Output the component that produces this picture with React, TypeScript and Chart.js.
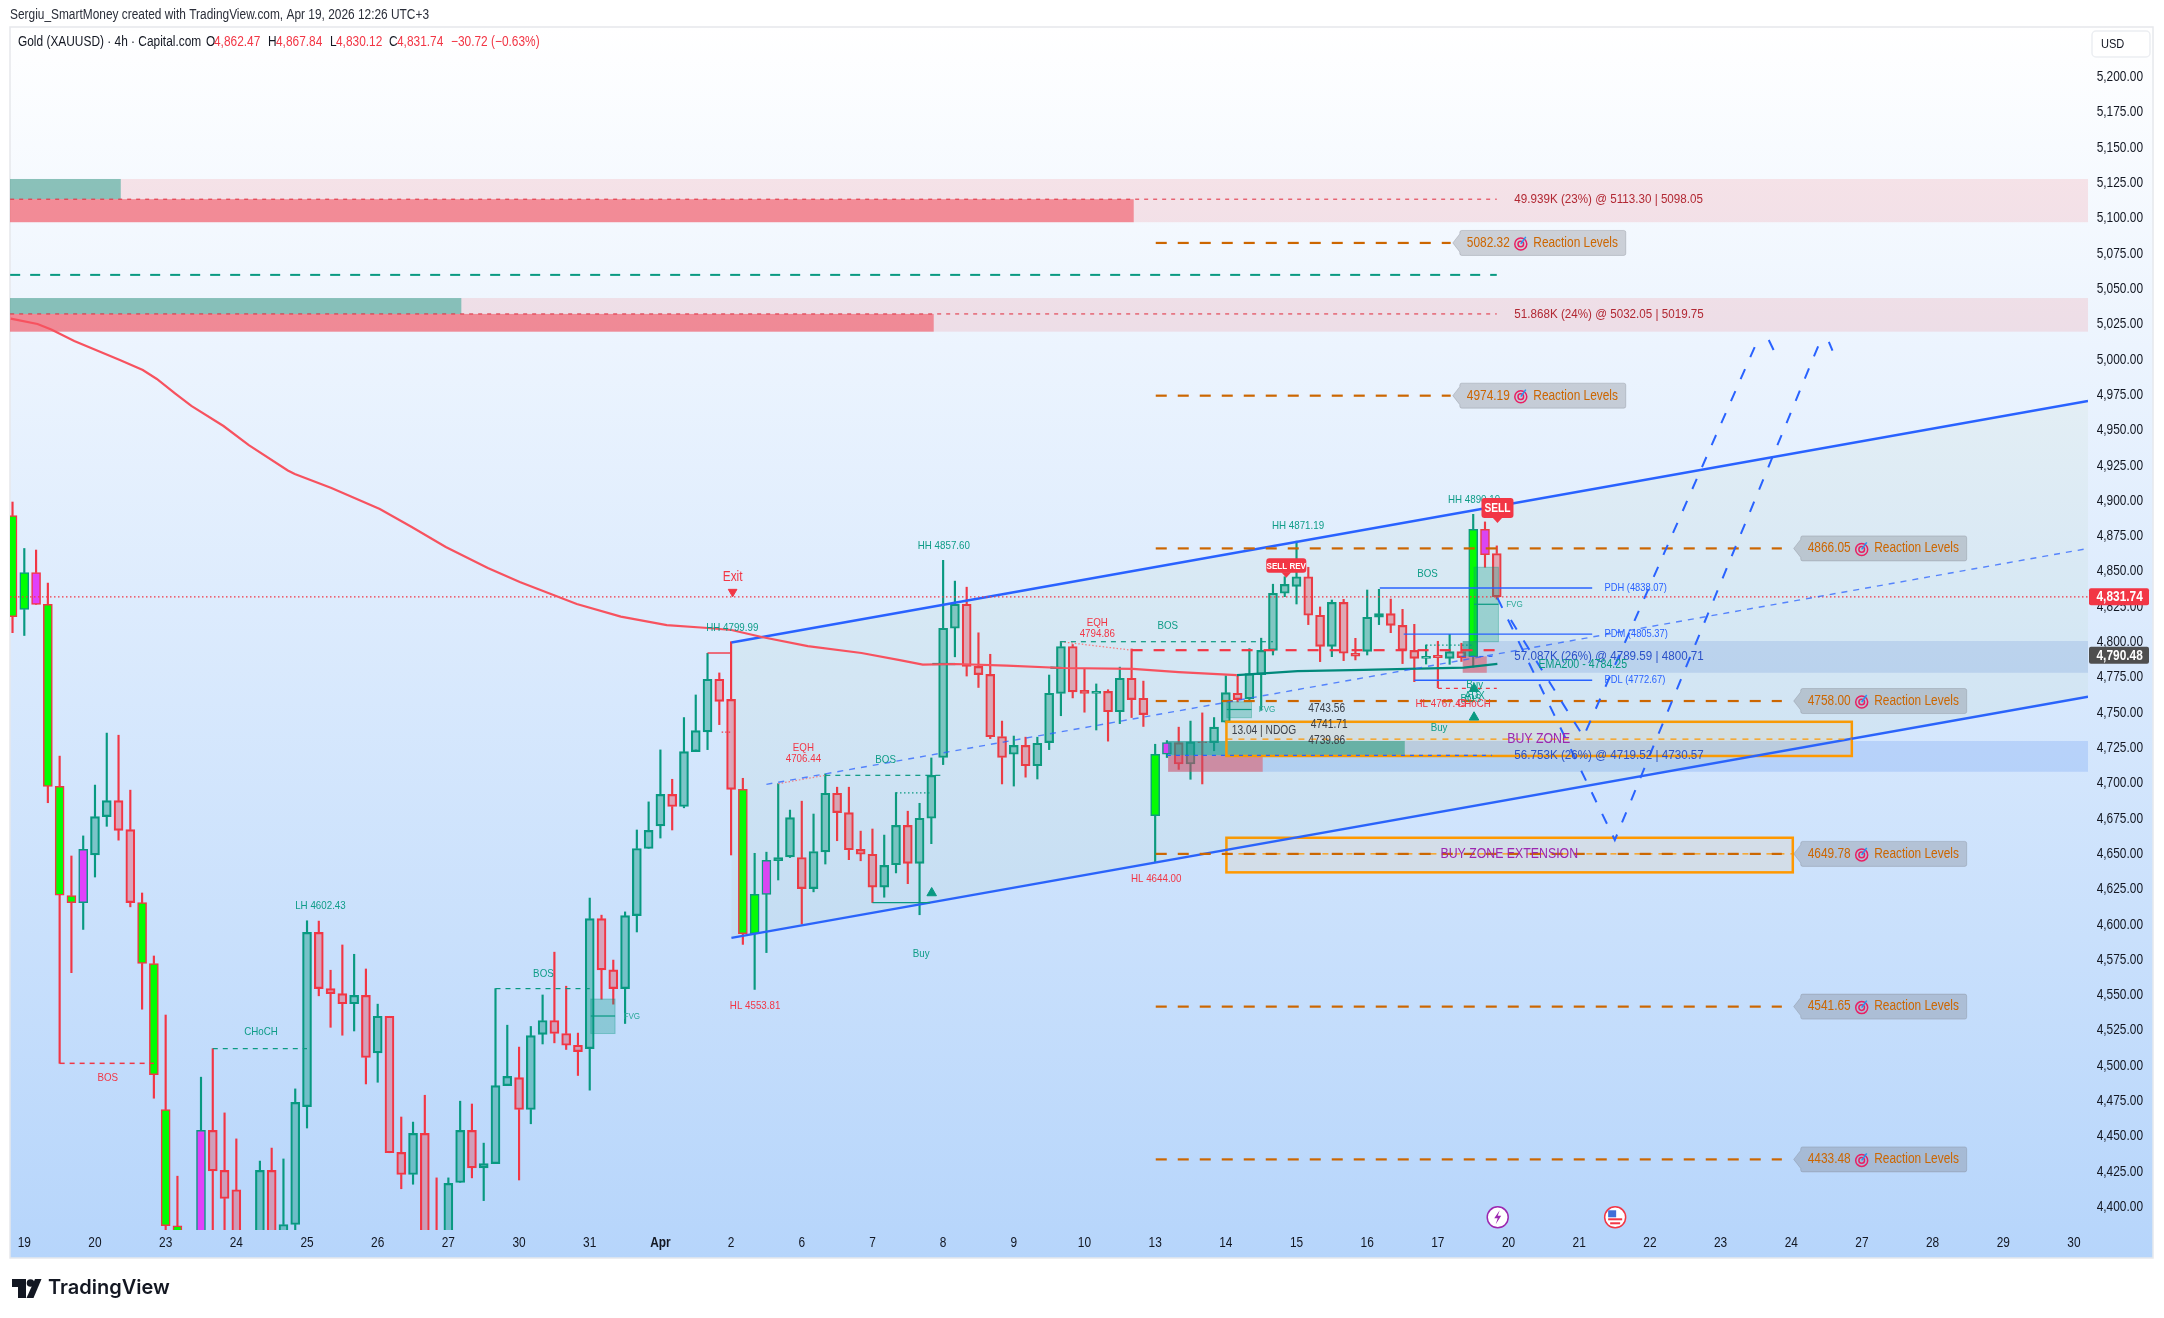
import React, { useEffect, useRef } from "react";
import { Chart, registerables } from "chart.js";

Chart.register(...registerables);

// ---------- price series (4h candles, bar index -1 .. 125) ----------
const firstBar = -1;
const opens = [4889.3,4822.8,4849,4826.4,4697.6,4620.3,4615.3,4649.1,4676.2,4687.5,4667,4615.3,4572.2,4468.8,4386.5,4375,4370,4454,4425.7,4412,4375,4372,4425.7,4375,4387.4,4470.9,4594.2,4554.4,4550.8,4543.7,4549.6,4508.9,4534.8,4438.5,4422.8,4451.9,4378,4372,4417.1,4454,4427.5,4430.5,4485.7,4491.4,4468.8,4522,4531.8,4522.6,4514.3,4511.9,4604,4567.7,4554.4,4606.1,4653.6,4669.6,4691.9,4683.3,4722.2,4736.2,4773.4,4759.2,4695.5,4593.3,4621.1,4644.9,4647.7,4647.2,4625.2,4651.2,4692.7,4679,4653,4649.5,4626.2,4642.1,4670,4643.1,4675,4718,4809.5,4826.5,4782.5,4776.9,4732.9,4720.3,4726.6,4712.2,4728.6,4763.3,4796.6,4765.5,4763.3,4764.8,4750.4,4774.1,4760,4676.8,4720.3,4728.6,4713.4,4729.1,4728.6,4743,4763.5,4759.5,4776.7,4793.9,4834.3,4839.2,4846,4818.7,4796.7,4827.9,4791.8,4793.2,4817.3,4819.9,4811.6,4793.9,4788.2,4790.4,4788.2,4793,4789.4,4879.6,4862.47];
const highs = [4898.9,4866,4864.9,4841.5,4719,4648.3,4662.5,4698.5,4735.3,4733.8,4694.9,4622.1,4577.5,4535.7,4421.6,4380,4491.7,4511.9,4466.4,4448,4381,4432.3,4441.5,4433.8,4483.4,4602.43,4602.2,4567.4,4585.3,4578.7,4568.3,4543.4,4534.8,4463.5,4459.9,4478.9,4420.4,4420.4,4474.7,4472.7,4445,4554.4,4528.5,4513,4527.6,4549.9,4580.2,4556.1,4522.9,4618.5,4606.4,4574.6,4608.7,4666.7,4686.6,4723.4,4702.6,4746.3,4762.3,4791.8,4777.9,4799.99,4703.3,4650.2,4651,4699.5,4680.8,4687.1,4678,4706.44,4697,4697,4665.9,4667.4,4663.1,4693.2,4680,4685.6,4717.7,4857.6,4842.9,4838.6,4806.3,4791.1,4743.8,4733.2,4732.4,4732.4,4776.4,4800.2,4798,4780.5,4770.1,4766,4782,4794.86,4772.1,4727.4,4730,4739.5,4743.8,4749.6,4746.3,4775.9,4775.9,4795.1,4802.5,4840.7,4846,4871.19,4852.7,4824.6,4829.5,4830,4802.4,4836.6,4837.1,4830.2,4822.9,4812.3,4797.7,4800.3,4805.2,4798.9,4890.19,4884.8,4867.84];
const lows = [4806.4,4804.4,4826.4,4686,4501.5,4565.7,4596.3,4633.4,4669.3,4659.5,4612.3,4539.8,4476.8,4380,4365,4360,4365,4370,4372,4365,4360,4365,4370,4370,4378,4455.7,4549.3,4527,4521.4,4524.4,4486.9,4488.1,4438.2,4412.7,4415.9,4370,4360,4366,4417.1,4420.4,4404.3,4430.5,4485.7,4418.9,4458.7,4515.2,4516,4511.3,4492.9,4482.5,4546.9,4543.4,4529.7,4594.5,4653.6,4661,4666.7,4682.4,4723.4,4723.6,4741.3,4649,4585.7,4553.81,4579.9,4631.3,4647.2,4600.2,4622.9,4642.6,4659.1,4645.7,4644.9,4615.3,4619.1,4636.3,4628.7,4606.7,4657,4713,4789.3,4775.7,4767.6,4731.4,4699.3,4697.8,4704.1,4702.8,4723.6,4747.6,4760.2,4750.1,4737.5,4729.6,4742,4746.3,4740,4644,4718,4709.6,4702.6,4699.3,4722.8,4742.5,4757.4,4759,4751.4,4790.6,4831.9,4826.7,4812.1,4785.9,4789.4,4786.6,4787.1,4790.6,4812.1,4806.4,4784.5,4771.7,4784.2,4767.49,4784,4786,4781.9,4852.7,4830.12];
const closes = [4817.7,4849,4826.4,4697.6,4620.6,4615.3,4653,4676.2,4687.5,4666.4,4615.3,4572.2,4493.5,4386.5,4375,4370,4454,4425.4,4405.8,4375,4370,4425.7,4375,4387.4,4473.9,4594.2,4554.4,4550.8,4543.7,4549.6,4505.6,4534.8,4438.2,4422.8,4451.9,4378,4372,4416.5,4454,4427.5,4430.5,4485.7,4492.3,4468.8,4521.1,4531.8,4522.6,4514.3,4509.8,4604,4567.7,4554.4,4606.1,4653.6,4666.4,4691.9,4683.3,4722.2,4737.1,4773.4,4757.7,4695.5,4593.3,4621.1,4645.2,4647.2,4675.5,4625.2,4651.5,4692.7,4679,4652.7,4649.5,4626.2,4641.6,4670,4643.1,4675,4705.4,4809.5,4826.5,4782.5,4776.7,4732.7,4718,4726.6,4712.2,4728.1,4763.5,4796.6,4764.5,4763.3,4764.8,4750.4,4774.1,4759,4748.4,4720.3,4728.6,4713.4,4729.1,4728.6,4739.5,4764,4759,4777.4,4793.9,4834.3,4840.6,4846,4818.7,4796.7,4827.9,4791.8,4789.7,4817.3,4819.9,4811.6,4793.9,4788.2,4789.7,4788.7,4793,4788.7,4879.6,4861.6,4831.74];
const limeBars = [-1,0,2,3,4,10,11,12,13,14,61,62,96,123];
const magentaBars = [1,5,15,63,97,124];

// ---------- axes ----------
const priceTicks = [4400,4425,4450,4475,4500,4525,4550,4575,4600,4625,4650,4675,4700,4725,4750,4775,4800,4825,4850,4875,4900,4925,4950,4975,5000,5025,5050,5075,5100,5125,5150,5175,5200];
const dayLabels = ["19","20","23","24","25","26","27","30","31","Apr","2","6","7","8","9","10","13","14","15","16","17","20","21","22","23","24","27","28","29","30"];
const barsPerDay = 6;

// ---------- moving average ----------
const emaRed = [[-1.15,5028.7],[1.12,5024.9],[2.29,5021],[4.24,5012.9],[8.11,4999.4],[10.06,4992.3],[11.25,4986],[12.82,4975.7],[14.18,4966.9],[16.91,4952.7],[19.06,4939.2],[22.37,4921.2],[22.96,4918.7],[26.07,4908.8],[30.18,4893.9],[32.89,4881.2],[35.78,4867],[39.35,4852.2],[42.06,4842.2],[46.9,4826.7],[50.64,4817.8],[54.54,4811.8],[58.02,4809.7],[60.03,4808.3],[62.6,4803.3],[66.51,4796.9],[71.07,4792],[74.32,4787],[76.27,4783.8],[79.03,4784.2],[83.4,4783],[88.12,4781.4],[94.1,4780.7],[98,4778.5],[102.93,4776.4]];
const emaTeal = [[102.93,4776.4],[108.08,4779.2],[113.71,4780],[122.2,4781.6],[125.05,4784.25]];
const emaTealA = [[77.08,4784.2],[79.03,4784.2]];
const emaTealB = [[87.1,4781.6],[88.12,4781.4]];

// ---------- channel and projection ----------
const channelUpper = [[60.03,4799.4],[175.19,4970.4]];
const channelLower = [[60.03,4590.3],[175.19,4761]];
const channelMid = [[63,4699],[175.19,4866]];
const projectionA = [[125.06,4831],[135.02,4659.6],[152.5,5013.6]];
const projectionB = [[126.2,4815.3],[132.36,4732.7],[147.16,5013.6]];
const projectionTailA = [[153.19,5012.2],[153.5,5006]];
const projectionTailB = [[148.09,5013.6],[148.5,5006.5]];

// ---------- levels ----------
const lastPrice = 4831.74;
const pocPrice = 4790.48;
const upperReactionLevels = [5082.32,4974.19];
const lowerReactionLevels = [4866.05,4758.0,4649.78,4541.65,4433.48];
const tealLevel = [[-1.2,5059.7],[125,5059.7]];
const vpLineA = [[-1.2,5113.3],[125,5113.3]];
const vpLineB = [[-1.2,5032.05],[125,5032.05]];
const vpLineC = [[122,4789.59],[125,4789.59]];
const vpLineD = [[97,4719.52],[124.6,4719.52]];
const pdh = [[115.07,4838.07],[133.1,4838.07]];
const pdm = [[117.1,4805.37],[133.1,4805.37]];
const pdl = [[118,4772.67],[133.1,4772.67]];
const eqhThick = [[94,4794],[125,4794]];
const bosRed = [[3,4501.5],[11,4501.5]];
const chochTeal = [[16,4511.9],[24,4511.9]];
const bosTealA = [[40,4554.4],[48,4554.4]];
const bosTealB = [[68,4705.4],[78,4705.4]];
const bosTealC = [[88,4800],[106,4800]];
const dottedTealA = [[74,4693],[77,4693]];
const dottedTealB = [[119,4797.6],[123,4797.6]];
const eqhDottedA = [[64,4699.5],[68,4705.4]];
const eqhDottedB = [[88,4800],[94,4794]];
const buySolid = [[72,4615.3],[76.9,4615.3]];
const hhBracket = [[58,4792],[60,4792]];
const exitDotted = [[59.2,4736],[60,4736]];
const hlDashed = [[120,4767],[125,4767]];
const buyZoneLine = [[102.05,4731],[155.14,4731]];
const extZoneLine = [[102.05,4649.78],[150.13,4649.78]];
const fvgMidA = [[48.09,4535],[50.15,4535]];
const fvgMidB = [[102.08,4752],[104.18,4752]];
const fvgMidC = [[123.07,4826.5],[125.14,4826.5]];
const upTriangles = [[77.03,4622.1],[123.07,4766.7],[123.07,4746.5]];
const downTriangles = [[60.13,4835.3]];

// ---------- zones: [barFrom, barTo, priceTop, priceBottom] ----------
const rightEdge = 175.19;
const leftEdge = -1.214;
const zoneA = [leftEdge,rightEdge,5127.6,5097];
const zoneATeal = [leftEdge,8.19,5127.6,5113.3];
const zoneARed = [leftEdge,94.18,5113.3,5097];
const zoneB = [leftEdge,rightEdge,5043.3,5019.5];
const zoneBTeal = [leftEdge,37.1,5043.3,5032.05];
const zoneBRed = [leftEdge,77.2,5032.05,5019.5];
const zoneC = [122.11,rightEdge,4800.5,4778];
const zoneCTeal = [122.11,123.39,4800.5,4789.6];
const zoneCRed = [122.11,124.15,4789.6,4778];
const zoneD = [97.1,rightEdge,4729.7,4707.9];
const zoneDTeal = [97.1,117.19,4729.7,4719.5];
const zoneDRed = [97.1,105.13,4719.5,4707.9];
const buyZone = [102.05,155.14,4743.3,4719.1];
const extZone = [102.05,150.13,4661.2,4636.7];
const fvgBoxes = [[48.09,50.15,4547,4522.6],[102.08,104.18,4757.5,4746.2],[123.07,125.14,4852.7,4800]];

// ---------- text anchored in bar/price units ----------
const tealTexts: [string,number,number][] = [
  ["LH 4602.43",25.14,4612.9],["BOS",44.07,4565.1],["CHoCH",20.1,4523.6],["HH 4799.99",60.1,4810],
  ["HH 4857.60",78.06,4868.2],["BOS",73.12,4716.7],["BOS",97.07,4811.5],["Buy",76.14,4579.2],
  ["HH 4871.19",108.13,4881.7],["HH 4890.19",123.07,4900.5],["BOS",119.12,4848.1],["Buy",123.13,4769.5],
  ["ADX",123.13,4762],["BOS",122.8,4759.4],["Buy",120.1,4739.1],
];
const redTexts: [string,number,number][] = [
  ["BOS",7.09,4491.4],["EQH",66.14,4725.1],["4706.44",66.14,4717.2],["EQH",91.09,4813.6],["4794.86",91.09,4805.7],
  ["HL 4553.81",62.04,4542.5],["HL 4644.00",96.09,4632.3],["HL 4767.49",120.25,4756.1],["CHoCH",123.07,4756.1],
];
const fvgTexts: [string,number,number][] = [["FVG",51.57,4535],["FVG",105.5,4751.9],["FVG",126.5,4826.5]];
const darkTexts: [string,number,number][] = [["4743.56",109,4752.5],["4741.71",109.21,4741.2],["4739.86",109,4729.9],["13.04 | NDOG",102.5,4737]];
const vpTexts: [string,number,number][] = [
  ["49.939K (23%) @ 5113.30 | 5098.05",126.49,5113.3],["51.868K (24%) @ 5032.05 | 5019.75",126.49,5032.05],
];
const vpBlueTexts: [string,number,number][] = [
  ["57.087K (26%) @ 4789.59 | 4800.71",126.49,4789.59],["56.753K (26%) @ 4719.52 | 4730.57",126.49,4719.52],
];
const pdTexts: [string,number,number][] = [["PDH (4838.07)",134.14,4838.07],["PDM (4805.37)",134.14,4805.37],["PDL (4772.67)",134.14,4772.67]];
const sellBadges: [string,number,number][] = [["SELL REV",107.13,4854],["SELL",125.06,4894.6]];
const eventIcons = [[125.08,4392.5],[135.05,4392.5]];

const legendTitle = "Gold (XAUUSD) · 4h · Capital.com";
const creditLine = "Sergiu_SmartMoney created with TradingView.com, Apr 19, 2026 12:26 UTC+3";

// ---------- styles ----------
const FONT = '"Liberation Sans", sans-serif';
const SQUEEZE = 0.85;
const TEAL = "#089981";
const RED = "#f23645";
const BLUE = "#2962ff";
const ORANGE = "#cc6600";
const W = 2164, H = 1318;

const pts = (a: number[][]) => a.map(([x, y]) => ({ x, y }));
const line = (a: number[][], color: string, width: number, dash: number[] = [], extra: any = {}) => ({
  type: "line" as const, data: pts(a), borderColor: color, borderWidth: width, borderDash: dash,
  pointRadius: 0, tension: 0, fill: false, order: 5, ...extra,
});
const level = (p: number, a: number, b: number) => [[a, p], [b, p]];

export default function App() {
  const ref = useRef<HTMLCanvasElement>(null);
  useEffect(() => {
    document.body.style.margin = "0";
    const bars = opens.map((_, i) => i + firstBar);
    const up = opens.map((o, i) => closes[i] >= o);
    const border = up.map((u) => (u ? TEAL : RED));
    const fill = bars.map((k, i) =>
      limeBars.includes(k) ? "#00ff00" : magentaBars.includes(k) ? "#e040fb" : up[i] ? "rgba(8,153,129,0.42)" : "rgba(242,54,69,0.36)");

    const underCandlesOverlay = (chart: any) => {
      const c = chart.ctx, X = chart.scales.x, Y = chart.scales.y;
      const rect = (z: number[], f: string, stroke?: string, lw = 2) => {
        const x = X.getPixelForValue(z[0]), x2 = X.getPixelForValue(z[1]);
        const y = Y.getPixelForValue(z[2]), y2 = Y.getPixelForValue(z[3]);
        c.fillStyle = f; c.fillRect(x, y, x2 - x, y2 - y);
        if (stroke) { c.strokeStyle = stroke; c.lineWidth = lw; c.strokeRect(x, y, x2 - x, y2 - y); }
      };
      c.save();
      rect(zoneA, "rgba(242,54,69,0.12)"); rect(zoneB, "rgba(242,54,69,0.12)");
      rect(zoneC, "rgba(60,110,215,0.17)"); rect(zoneD, "rgba(70,130,240,0.2)");
      rect(zoneATeal, "rgba(8,153,129,0.45)"); rect(zoneBTeal, "rgba(8,153,129,0.45)");
      rect(zoneARed, "rgba(242,54,69,0.5)"); rect(zoneBRed, "rgba(242,54,69,0.5)");
      rect(zoneCTeal, "rgba(8,153,129,0.5)"); rect(zoneDTeal, "rgba(8,153,129,0.55)");
      rect(zoneCRed, "rgba(242,54,69,0.45)"); rect(zoneDRed, "rgba(242,54,69,0.45)");
      fvgBoxes.forEach((b) => rect(b, "rgba(8,153,129,0.3)", "rgba(8,153,129,0.35)", 1));
      rect(buyZone, "rgba(255,180,60,0.1)", "#ff9800", 2.5);
      rect(extZone, "rgba(255,180,60,0.1)", "#ff9800", 2.5);
      c.restore();
    };

    const overlay = {
      id: "overlay",
      beforeDraw(chart: any) {
        const c = chart.ctx;
        c.save();
        c.fillStyle = "#fff"; c.fillRect(0, 0, W, H);
        const g = c.createLinearGradient(0, 27, 0, 1258);
        g.addColorStop(0, "#ffffff"); g.addColorStop(1, "#b6d5fb");
        c.fillStyle = g; c.fillRect(10, 27, 2143, 1231);
        c.strokeStyle = "#e6e8ec"; c.lineWidth = 1.5; c.strokeRect(10, 27, 2143, 1231);
        c.restore();
      },
      afterDatasetDraw(chart: any, args: any) {
        if (args.index === 2) underCandlesOverlay(chart);
      },
      afterDatasetsDraw(chart: any) {
        const c = chart.ctx, X = chart.scales.x, Y = chart.scales.y;
        const px = (k: number) => X.getPixelForValue(k), py = (p: number) => Y.getPixelForValue(p);
        const text = (s: string, x: number, y: number, color: string, font: string, align: CanvasTextAlign = "center") => {
          c.save();
          c.translate(x, y); c.scale(SQUEEZE, 1);
          c.font = font; c.fillStyle = color; c.textAlign = align; c.textBaseline = "middle"; c.fillText(s, 0, 0);
          c.restore();
        };
        const small = `11.5px ${FONT}`;
        c.save();

        // axis labels come from the scales' own ticks
        Y.ticks.forEach((t: any) => text(t.label, 2096.7, py(t.value) + 0.5, "#131722", `14px ${FONT}`, "left"));
        X.ticks.forEach((t: any) => text(t.label, px(t.value), 1243, "#131722", `${t.label === "Apr" ? "bold " : ""}14px ${FONT}`));

        tealTexts.forEach(([s, k, p]) => text(s, px(k), py(p), "#0e9c87", small));
        redTexts.forEach(([s, k, p]) => text(s, px(k), py(p), RED, small));
        fvgTexts.forEach(([s, k, p]) => text(s, px(k), py(p), "#2aa898", `9.5px ${FONT}`));
        darkTexts.forEach(([s, k, p]) => text(s, px(k), py(p), "#3c4048", `12px ${FONT}`, "left"));
        vpTexts.forEach(([s, k, p]) => text(s, px(k), py(p), "#b22833", `13.7px ${FONT}`, "left"));
        vpBlueTexts.forEach(([s, k, p]) => text(s, px(k), py(p), "#2a50c8", `13.7px ${FONT}`, "left"));
        pdTexts.forEach(([s, k, p]) => text(s, px(k), py(p), "#2962ff", `11px ${FONT}`, "left"));
        text("EMA200 - 4784.25", px(132.3), py(4783.7), TEAL, `12.5px ${FONT}`);
        text("Exit", px(60.13), py(4845.4), RED, `14px ${FONT}`);
        text("BUY ZONE", px(128.56), py(4731.1), "#9c27b0", `14.5px ${FONT}`);
        text("BUY ZONE EXTENSION", px(126.06), py(4649.7), "#9c27b0", `14.5px ${FONT}`);

        // reaction level tags
        const tag = (value: number, startBar: number) => {
          const x = px(startBar), y = py(value), w = 166, h = 25;
          c.beginPath();
          c.moveTo(x - 7, y); c.lineTo(x, y - 9); c.lineTo(x, y - h / 2 + 2); c.arcTo(x, y - h / 2, x + 2, y - h / 2, 2);
          c.lineTo(x + w - 2, y - h / 2); c.arcTo(x + w, y - h / 2, x + w, y - h / 2 + 2, 2);
          c.lineTo(x + w, y + h / 2 - 2); c.arcTo(x + w, y + h / 2, x + w - 2, y + h / 2, 2);
          c.lineTo(x + 2, y + h / 2); c.arcTo(x, y + h / 2, x, y + h / 2 - 2, 2); c.lineTo(x, y + 9); c.closePath();
          c.fillStyle = "rgba(120,123,134,0.32)"; c.fill();
          c.strokeStyle = "rgba(120,123,134,0.3)"; c.lineWidth = 1; c.stroke();
          text(value.toFixed(2), x + 7, y, ORANGE, `14px ${FONT}`, "left");
          const ix = x + 61;
          c.strokeStyle = "#e91e63"; c.lineWidth = 1.5;
          c.beginPath(); c.arc(ix, y + 1, 6, 0, Math.PI * 2); c.stroke();
          c.beginPath(); c.arc(ix, y + 1, 2.8, 0, Math.PI * 2); c.stroke();
          c.strokeStyle = "#2196f3"; c.beginPath(); c.moveTo(ix, y + 1); c.lineTo(ix + 5, y - 6); c.stroke();
          text("Reaction Levels", x + 73.5, y, ORANGE, `14px ${FONT}`, "left");
        };
        upperReactionLevels.forEach((v) => tag(v, 121.86));
        lowerReactionLevels.forEach((v) => tag(v, 150.8));

        // sell badges
        sellBadges.forEach(([s, k, p]) => {
          const x = px(k), y = py(p), w = s === "SELL" ? 32 : 40, h = s === "SELL" ? 20 : 14.5;
          c.fillStyle = RED;
          c.beginPath(); c.roundRect(x - w / 2, y - h / 2, w, h, 3); c.fill();
          c.beginPath(); c.moveTo(x - 5, y + h / 2 - 0.5); c.lineTo(x + 5, y + h / 2 - 0.5); c.lineTo(x, y + h / 2 + 5); c.closePath(); c.fill();
          text(s, x, y + 0.5, "#fff", `bold ${s === "SELL" ? 12 : 9.5}px ${FONT}`);
        });

        // calendar event icons
        eventIcons.forEach(([k, p], i) => {
          const x = px(k), y = py(p);
          c.beginPath(); c.arc(x, y, 10.5, 0, Math.PI * 2);
          c.fillStyle = "#fff"; c.fill();
          c.strokeStyle = i === 0 ? "#9c27b0" : RED; c.lineWidth = 1.5; c.stroke();
          if (i === 0) {
            c.fillStyle = "#9c27b0";
            c.beginPath(); c.moveTo(x + 2, y - 7); c.lineTo(x - 3.5, y + 1); c.lineTo(x, y + 1); c.lineTo(x - 2, y + 7); c.lineTo(x + 3.5, y - 1.5); c.lineTo(x, y - 1.5); c.closePath(); c.fill();
          } else {
            c.fillStyle = RED; c.fillRect(x - 7, y + 1, 14, 2); c.fillRect(x - 5, y + 5, 10, 2);
            c.fillStyle = "#3f6fd8"; c.fillRect(x - 7, y - 7, 8, 7);
          }
        });

        // price tags on the axis
        const priceTag = (v: number, bg: string) => {
          const y = py(v);
          c.fillStyle = bg; c.beginPath(); c.roundRect(2089, y - 8.5, 60, 17, 2); c.fill();
          text(v.toLocaleString("en-US", { minimumFractionDigits: 2 }), 2096.5, y + 0.5, "#fff", `bold 14px ${FONT}`, "left");
        };
        priceTag(lastPrice, RED);
        priceTag(pocPrice, "#4f4f4f");

        // header, legend, USD box
        text(creditLine, 10, 15, "#2a2e39", `14px ${FONT}`, "left");
        const ly = 42, lf = `14px ${FONT}`;
        text(legendTitle, 18, ly, "#131722", lf, "left");
        ([["O", 206, "4,862.47", 214], ["H", 268, "4,867.84", 276], ["L", 330, "4,830.12", 336], ["C", 389, "4,831.74", 397]] as any[]).forEach(([a, ax, b, bx]) => {
          text(a, ax, ly, "#131722", lf, "left"); text(b, bx, ly, RED, lf, "left");
        });
        text("−30.72 (−0.63%)", 451, ly, RED, lf, "left");
        c.fillStyle = "#fff"; c.strokeStyle = "#eceef2"; c.lineWidth = 1.5;
        c.beginPath(); c.roundRect(2092, 31, 58, 26, 4); c.fill(); c.stroke();
        text("USD", 2101, 44.5, "#131722", `13px ${FONT}`, "left");

        // TradingView logo
        c.fillStyle = "#131722";
        c.beginPath();
        c.moveTo(12, 1279); c.lineTo(26, 1279); c.lineTo(26, 1298); c.lineTo(18, 1298); c.lineTo(18, 1287); c.lineTo(12, 1287); c.closePath(); c.fill();
        c.beginPath(); c.arc(30.5, 1283, 3.8, 0, Math.PI * 2); c.fill();
        c.beginPath(); c.moveTo(35, 1279); c.lineTo(41.5, 1279); c.lineTo(33.5, 1298); c.lineTo(26.5, 1298); c.closePath(); c.fill();
        c.font = `600 20px Inter, Roboto, sans-serif`; c.textAlign = "left"; c.textBaseline = "middle";
        c.fillText("TradingView", 48, 1288);
        c.restore();
      },
    };

    const datasets: any[] = [
      { type: "bar", data: bars.map((x, i) => ({ x, y: [Math.max(opens[i], closes[i]), highs[i]] })), backgroundColor: border, barThickness: 1.5, grouped: false, order: 21 },
      { type: "bar", data: bars.map((x, i) => ({ x, y: [lows[i], Math.min(opens[i], closes[i])] })), backgroundColor: border, barThickness: 1.5, grouped: false, order: 20 },
      { type: "bar", data: bars.map((x, i) => ({ x, y: [opens[i], closes[i]] })), backgroundColor: fill, borderColor: border, borderWidth: 1.5, borderSkipped: false, barThickness: 9, grouped: false, order: 19 },
      line(channelUpper, BLUE, 2.4, [], { fill: "+1", backgroundColor: "rgba(120,170,70,0.05)", order: 6 }),
      line(channelLower, BLUE, 2.4, [], { order: 6 }),
      line(channelMid, "rgba(41,98,255,0.75)", 1.4, [6, 6]),
      line(emaRed, "#f7525f", 2.2),
      line(emaTeal, "#00897b", 2.2),
      line(emaTealA, "#00897b", 2.2),
      line(emaTealB, "#00897b", 2.2),
      line(projectionA, BLUE, 2, [11, 13]),
      line(projectionB, BLUE, 2, [11, 13]),
      line(projectionTailA, BLUE, 2),
      line(projectionTailB, BLUE, 2),
      ...upperReactionLevels.map((v) => line(level(v, 96.05, 121.09), ORANGE, 2.2, [11, 11])),
      ...lowerReactionLevels.map((v) => line(level(v, 96.05, 149.2), ORANGE, 2.2, [11, 11])),
      line(level(lastPrice, leftEdge, rightEdge), RED, 1.3, [1.5, 2.5]),
      line(tealLevel, TEAL, 2, [10, 10]),
      line(vpLineA, "#e0293a", 1, [4, 5]),
      line(vpLineB, "#e0293a", 1, [4, 5]),
      line(vpLineC, BLUE, 1, [4, 5]),
      line(vpLineD, BLUE, 1.2, [4, 5]),
      line(pdh, BLUE, 1.4),
      line(pdm, BLUE, 1.4),
      line(pdl, BLUE, 1.4),
      line(eqhThick, RED, 2.2, [11, 11]),
      line(bosRed, RED, 1.5, [5, 5]),
      line(chochTeal, TEAL, 1.2, [5, 5]),
      line(bosTealA, TEAL, 1.2, [5, 5]),
      line(bosTealB, TEAL, 1.2, [5, 5]),
      line(bosTealC, TEAL, 1.2, [5, 5]),
      line(dottedTealA, TEAL, 1.2, [1.5, 2.5]),
      line(dottedTealB, TEAL, 1.2, [1.5, 2.5]),
      line(eqhDottedA, "#f77c80", 1.2, [1.5, 2]),
      line(eqhDottedB, "#f77c80", 1.2, [1.5, 2]),
      line(buySolid, TEAL, 1.4),
      line(hhBracket, RED, 1.4),
      line(exitDotted, RED, 1.2, [1.5, 2]),
      line(hlDashed, RED, 1.2, [4, 4]),
      line(buyZoneLine, "#ff9800", 1.2, [6, 6]),
      line(extZoneLine, "#ff9800", 1.2, [6, 6]),
      line(fvgMidA, TEAL, 1.2),
      line(fvgMidB, TEAL, 1.2),
      line(fvgMidC, TEAL, 1.2),
      { type: "line", data: pts(upTriangles), showLine: false, pointStyle: "triangle", pointRadius: 5.5, backgroundColor: TEAL, borderColor: TEAL, order: 4 },
      { type: "line", data: pts(downTriangles), showLine: false, pointStyle: "triangle", pointRotation: 180, pointRadius: 5, backgroundColor: RED, borderColor: RED, order: 4 },
    ];

    const chart = new Chart(ref.current!, {
      type: "bar",
      data: { datasets },
      plugins: [overlay],
      options: {
        animation: false,
        responsive: false,
        devicePixelRatio: 1,
        events: [],
        layout: { padding: { left: 10, top: 27, right: 11, bottom: 60 } },
        plugins: { legend: { display: false }, tooltip: { enabled: false } },
        scales: {
          x: {
            type: "linear", offset: false, min: leftEdge, max: rightEdge,
            grid: { display: false }, border: { display: false },
            afterFit: (s: any) => { s.height = 28; },
            afterBuildTicks: (s: any) => { s.ticks = dayLabels.map((_, i) => ({ value: i * barsPerDay })); },
            ticks: {
              display: false, autoSkip: false, maxRotation: 0,
              callback: (v: any) => dayLabels[Number(v) / barsPerDay],
            },
          },
          y: {
            type: "linear", position: "right", min: 4383.5, max: 5235.2,
            grid: { display: false }, border: { display: false },
            afterFit: (s: any) => { s.width = 65; },
            afterBuildTicks: (s: any) => { s.ticks = priceTicks.map((value) => ({ value })); },
            ticks: {
              display: false, autoSkip: false,
              callback: (v: any) => Number(v).toLocaleString("en-US", { minimumFractionDigits: 2 }),
            },
          },
        },
      } as any,
    });
    return () => chart.destroy();
  }, []);
  return <canvas ref={ref} width={W} height={H} style={{ display: "block" }} />;
}
